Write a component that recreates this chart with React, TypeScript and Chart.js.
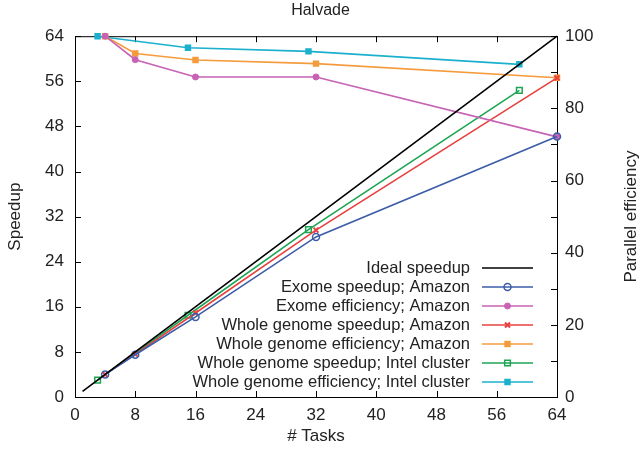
import React, { useEffect, useRef } from 'react';
import { Chart, registerables } from 'chart.js';
import { drawPoint } from 'chart.js/helpers';

Chart.register(...registerables);

const idealTasks = [1, 64];
const idealSpeedup = [1, 64];
const tasksAmazon = [4, 8, 16, 32, 64];
const exomeSpeedup = [4.0, 7.5, 14.2, 28.4, 46.2];
const exomeEfficiency = [100, 93.5, 88.7, 88.7, 72.1];
const wgSpeedup = [4.0, 7.6, 14.9, 29.6, 56.6];
const wgEfficiency = [100, 95.2, 93.4, 92.4, 88.5];
const tasksIntel = [3, 15, 31, 59];
const intelSpeedup = [3.0, 14.5, 29.7, 54.4];
const intelEfficiency = [100, 96.8, 95.8, 92.2];

const labels = [
  'Ideal speedup',
  'Exome speedup; Amazon',
  'Exome efficiency; Amazon',
  'Whole genome speedup; Amazon',
  'Whole genome efficiency; Amazon',
  'Whole genome speedup; Intel cluster',
  'Whole genome efficiency; Intel cluster',
];

const FONT = "'Liberation Sans', Arial, Helvetica, sans-serif";
const TEXT = '#222';

const pts = (xs: number[], ys: number[]) => xs.map((x, i) => ({ x, y: ys[i] }));

const framePlugin = {
  id: 'frameTicks',
  beforeDatasetsDraw(chart: any) {
    const { ctx, chartArea: a, scales } = chart;
    ctx.save();
    ctx.strokeStyle = '#000';
    ctx.lineWidth = 1;
    ctx.strokeRect(a.left + 0.5, a.top + 0.5, a.right - a.left, a.bottom - a.top);
    const L = 6;
    ctx.beginPath();
    const xs = scales.x;
    xs.ticks.forEach((t: any) => {
      const p = Math.round(xs.getPixelForValue(t.value)) + 0.5;
      ctx.moveTo(p, a.bottom);
      ctx.lineTo(p, a.bottom - L);
      ctx.moveTo(p, a.top);
      ctx.lineTo(p, a.top + L);
    });
    const ys = scales.y;
    ys.ticks.forEach((t: any) => {
      const p = Math.round(ys.getPixelForValue(t.value)) + 0.5;
      ctx.moveTo(a.left, p);
      ctx.lineTo(a.left + L, p);
    });
    const y2 = scales.y2;
    const vals: number[] = [];
    y2.ticks.forEach((t: any, i: number) => {
      vals.push(t.value);
      if (i < y2.ticks.length - 1) vals.push((t.value + y2.ticks[i + 1].value) / 2);
    });
    vals.forEach((v) => {
      const p = Math.round(y2.getPixelForValue(v)) + 0.5;
      ctx.moveTo(a.right, p);
      ctx.lineTo(a.right - L, p);
    });
    ctx.stroke();
    ctx.restore();
  },
  afterDraw(chart: any) {
    const { ctx, chartArea: a } = chart;
    // right axis title, reading bottom to top
    ctx.save();
    ctx.fillStyle = TEXT;
    ctx.font = `17px ${FONT}`;
    ctx.textAlign = 'center';
    ctx.textBaseline = 'middle';
    ctx.translate(631, (a.top + a.bottom) / 2);
    ctx.rotate(-Math.PI / 2);
    ctx.fillText('Parallel efficiency', 0, 0);
    ctx.restore();

    // legend
    ctx.save();
    const n = chart.data.datasets.length;
    chart.data.datasets.forEach((ds: any, i: number) => {
      const y = a.bottom - 15 - 19 * (n - 1 - i);
      ctx.fillStyle = TEXT;
      ctx.font = `16.5px ${FONT}`;
      ctx.textAlign = 'right';
      ctx.textBaseline = 'middle';
      ctx.fillText(ds.label, a.right - 87, y);
      ctx.strokeStyle = ds.borderColor;
      ctx.lineWidth = ds.borderWidth;
      ctx.beginPath();
      ctx.moveTo(a.right - 75, y);
      ctx.lineTo(a.right - 24, y);
      ctx.stroke();
      if (ds.pointRadius > 0) {
        ctx.fillStyle = ds.pointBackgroundColor;
        ctx.strokeStyle = ds.borderColor;
        ctx.lineWidth = ds.pointBorderWidth;
        drawPoint(ctx, { pointStyle: ds.pointStyle, rotation: 0, radius: ds.pointRadius, borderWidth: ds.pointBorderWidth }, a.right - 49.5, y);
      }
    });
    ctx.restore();
  },
};

export default function App() {
  const ref = useRef<HTMLCanvasElement>(null);
  useEffect(() => {
    if (!ref.current) return;
    Chart.defaults.font.family = FONT;
    Chart.defaults.color = TEXT;
    const mk = (label: string, data: any[], color: string, style: any, radius: number, fill: string, yAxisID: string, pbw = 1.5) => ({
      label,
      data,
      borderColor: color,
      backgroundColor: color,
      pointBackgroundColor: fill,
      pointBorderColor: color,
      pointStyle: style,
      pointRadius: radius,
      pointBorderWidth: pbw,
      borderWidth: 1.6,
      yAxisID,
      showLine: true,
      tension: 0,
      clip: false,
    });
    const chart = new Chart(ref.current, {
      type: 'scatter',
      data: {
        datasets: [
          mk(labels[0], pts(idealTasks, idealSpeedup), '#000000', 'circle', 0, '#000', 'y'),
          mk(labels[1], pts(tasksAmazon, exomeSpeedup), '#3c5ca8', 'circle', 3.5, 'rgba(0,0,0,0)', 'y'),
          mk(labels[2], pts(tasksAmazon, exomeEfficiency), '#c862b5', 'circle', 3, '#c862b5', 'y2', 1),
          mk(labels[3], pts(tasksAmazon, wgSpeedup), '#e8403f', 'crossRot', 3.5, '#e8403f', 'y', 2),
          mk(labels[4], pts(tasksAmazon, wgEfficiency), '#f59b3d', 'rect', 3.5, '#f59b3d', 'y2'),
          mk(labels[5], pts(tasksIntel, intelSpeedup), '#1ca553', 'rect', 4, 'rgba(0,0,0,0)', 'y'),
          mk(labels[6], pts(tasksIntel, intelEfficiency), '#1bb0cd', 'rect', 3.5, '#1bb0cd', 'y2'),
        ],
      },
      options: {
        animation: false,
        responsive: false,
        maintainAspectRatio: false,
        layout: { padding: { left: 0, right: 0, top: 0, bottom: 0 } },
        plugins: {
          legend: { display: false },
          tooltip: { enabled: false },
          title: {
            display: true,
            text: 'Halvade',
            color: TEXT,
            font: { size: 16, weight: 'normal', family: FONT },
            padding: { top: 1, bottom: 16 },
          },
        },
        scales: {
          x: {
            type: 'linear',
            min: 0,
            max: 64,
            grid: { display: false, drawTicks: false },
            border: { display: false },
            ticks: { stepSize: 8, padding: 8, font: { size: 17 }, color: TEXT, maxRotation: 0 },
            title: { display: true, text: '# Tasks', font: { size: 17 }, color: TEXT, padding: { top: 0, bottom: 5 } },
            afterFit: (s: any) => { s.height = 55; },
          },
          y: {
            type: 'linear',
            position: 'left',
            min: 0,
            max: 64,
            grid: { display: false, drawTicks: false },
            border: { display: false },
            ticks: { stepSize: 8, padding: 11, font: { size: 17 }, color: TEXT },
            title: { display: true, text: 'Speedup', font: { size: 17 }, color: TEXT, padding: { top: 5, bottom: 0 } },
            afterFit: (s: any) => { s.width = 75; },
          },
          y2: {
            type: 'linear',
            position: 'right',
            min: 0,
            max: 100,
            grid: { display: false, drawTicks: false },
            border: { display: false },
            ticks: { stepSize: 20, padding: 8, font: { size: 17 }, color: TEXT },
            afterFit: (s: any) => { s.width = 84; },
          },
        },
      },
      plugins: [framePlugin],
    } as any);
    return () => chart.destroy();
  }, []);
  return (
    <div style={{ position: 'absolute', left: 0, top: 0, width: 641, height: 452, background: '#fff' }}>
      <canvas ref={ref} width={641} height={452} style={{ width: 641, height: 452 }} />
    </div>
  );
}
